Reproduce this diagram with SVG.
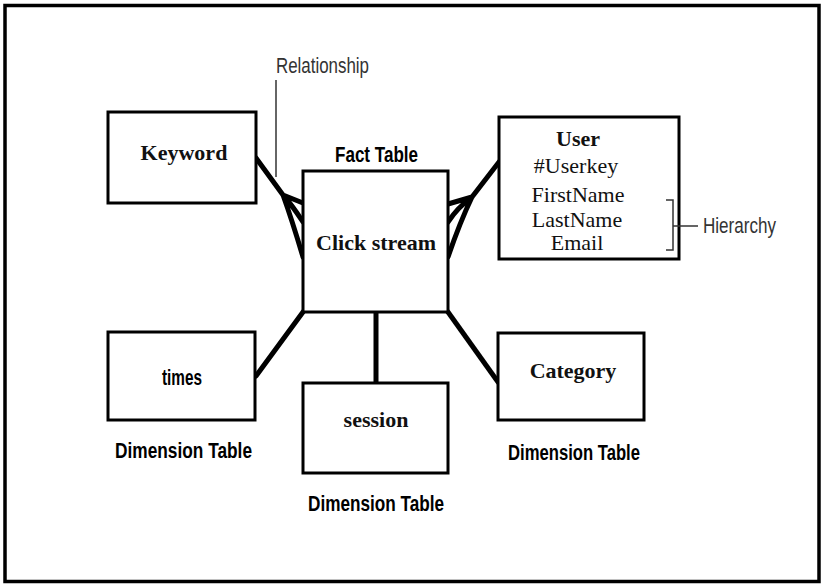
<svg xmlns="http://www.w3.org/2000/svg" width="824" height="586" viewBox="0 0 824 586">
<style>
.box{fill:#fff;stroke:#000;stroke-width:3}
.conn{fill:none;stroke:#000;stroke-width:5;stroke-linecap:round;stroke-linejoin:round}
.thin{fill:none;stroke:#333;stroke-width:1.5}
.tb{font-family:"Liberation Serif","Times New Roman",serif;font-weight:bold;font-size:22px;fill:#111;text-anchor:middle}
.tr{font-family:"Liberation Serif","Times New Roman",serif;font-size:22px;fill:#111;text-anchor:middle}
.lb{font-family:"Liberation Sans",Arial,sans-serif;font-weight:bold;font-size:22px;fill:#000}
.ln{font-family:"Liberation Sans",Arial,sans-serif;font-size:22px;fill:#333}
</style>
<rect x="0" y="0" width="824" height="586" fill="#fff"/>
<rect x="5" y="5.5" width="814" height="576" fill="none" stroke="#000" stroke-width="3.5"/>
<g id="connectors">
<path class="conn" d="M256,158 L283,195 M283,195 L303,203 M283,195 Q292,205 303,222 M283,195 Q292,220 303,257"/>
<path class="conn" d="M499,162 L472,197 M472,197 L448,204 M472,197 Q458,207 448,222 M472,197 Q460,222 448,257"/>
<path class="conn" d="M256,376 L303,312"/>
<path class="conn" d="M376,312 L376,383"/>
<path class="conn" d="M448,312 L498,382"/>
<path class="thin" d="M276,80 L276,177"/>
</g>
<g id="keyword">
<rect class="box" x="108" y="112" width="148" height="91"/>
<text class="tb" x="184" y="160">Keyword</text>
</g>
<g id="clickstream">
<rect class="box" x="303" y="171" width="145" height="141"/>
<text class="tb" x="376" y="250">Click stream</text>
<text class="lb" x="335" y="162" textLength="83" lengthAdjust="spacingAndGlyphs">Fact Table</text>
</g>
<g id="user">
<rect class="box" x="499" y="117" width="180" height="142"/>
<text class="tb" x="578" y="146">User</text>
<text class="tr" x="576" y="173">#Userkey</text>
<text class="tr" x="578" y="202">FirstName</text>
<text class="tr" x="577" y="227">LastName</text>
<text class="tr" x="577" y="250">Email</text>
</g>
<g id="times">
<rect class="box" x="108" y="332" width="147" height="88"/>
<text class="lb" x="162" y="385" textLength="40" lengthAdjust="spacingAndGlyphs">times</text>
<text class="lb" x="115" y="458" textLength="137" lengthAdjust="spacingAndGlyphs">Dimension Table</text>
</g>
<g id="session">
<rect class="box" x="303" y="383" width="145" height="90"/>
<text class="tb" x="376" y="427">session</text>
<text class="lb" x="308" y="511" textLength="136" lengthAdjust="spacingAndGlyphs">Dimension Table</text>
</g>
<g id="category">
<rect class="box" x="498" y="333" width="146" height="87"/>
<text class="tb" x="573" y="378">Category</text>
<text class="lb" x="508" y="460" textLength="132" lengthAdjust="spacingAndGlyphs">Dimension Table</text>
</g>
<g id="labels">
<path class="thin" d="M666,200 L673,200 L673,250 L666,250 M673,226 L698,226"/>
<text class="ln" x="276" y="73" textLength="93" lengthAdjust="spacingAndGlyphs">Relationship</text>
<text class="ln" x="703" y="233" textLength="73" lengthAdjust="spacingAndGlyphs">Hierarchy</text>
</g>
</svg>
